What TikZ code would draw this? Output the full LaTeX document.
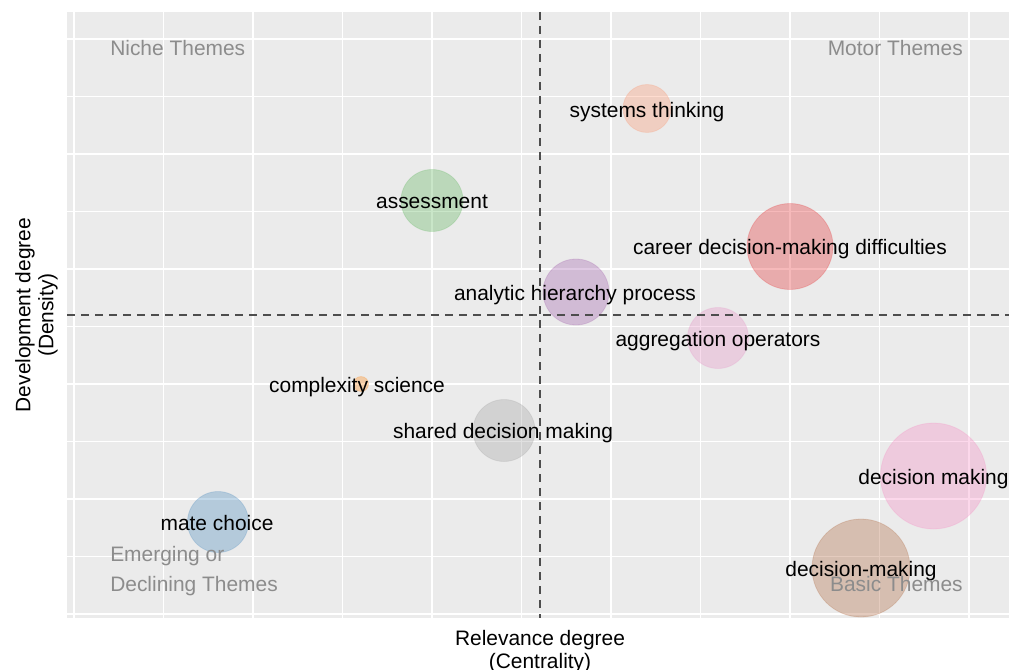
\documentclass[tikz,border=0pt]{standalone}
\usepackage{fontspec}
\setmainfont{Liberation Sans}
\definecolor{panelbg}{RGB}{235,235,235}
\definecolor{quadgray}{RGB}{140,140,140}
\definecolor{cutline}{RGB}{77,77,77}
\definecolor{cred}{RGB}{228,26,28}
\definecolor{cblue}{RGB}{55,126,184}
\definecolor{cgreen}{RGB}{77,175,74}
\definecolor{cpurple}{RGB}{152,78,163}
\definecolor{corange}{RGB}{255,127,0}
\definecolor{cbrown}{RGB}{166,86,40}
\definecolor{cpink}{RGB}{247,129,191}
\definecolor{cgray}{RGB}{153,153,153}
\definecolor{cpeach}{RGB}{252,141,98}
\definecolor{cmauve}{RGB}{231,138,195}

\begin{document}
\begin{tikzpicture}[x=0.75pt,y=-0.75pt,
    bubble/.style={circle,inner sep=0pt,minimum size=#1*1.5pt,fill opacity=0.3,draw opacity=0.2,line width=0.6pt},
    theme/.style={font=\fontsize{15.7}{18}\selectfont,text=black,inner sep=0pt,text height=11.2pt,text depth=0pt},
    quad/.style={font=\fontsize{15.7}{22.5}\selectfont,text=quadgray,inner sep=0pt},
    axistitle/.style={font=\fontsize{15.7}{17.25}\selectfont,text=black,inner sep=0pt,align=center},
    major/.style={white,line width=1.2pt},
    minor/.style={white,line width=0.6pt},
    cut/.style={cutline,line width=1.1pt,dash pattern=on 6pt off 4.5pt}]
  \useasboundingbox (0,0) rectangle (1009,670);
  %panel and grid
  \fill[panelbg] (67,12) rectangle (1009,618);
  \foreach \gx in {163.5,342.5,521.5,700.5,879.5} \draw[minor] (\gx,12) -- (\gx,618);
  \foreach \gy in {96.5,211.5,326.5,441.5,556.5} \draw[minor] (67,\gy) -- (1009,\gy);
  \foreach \gx in {74,253,432,611,790,969} \draw[major] (\gx,12) -- (\gx,618);
  \foreach \gy in {39,154,269,384,499,614} \draw[major] (67,\gy) -- (1009,\gy);
  %bubbles
  \node[bubble=24,fill=cpeach,draw=cpeach] (systems) at (647,108.5) {};
  \node[bubble=31,fill=cgreen,draw=cgreen] (assess) at (432,200.5) {};
  \node[bubble=43,fill=cred,draw=cred] (career) at (790,246.5) {};
  \node[bubble=33,fill=cpurple,draw=cpurple] (ahp) at (576,292) {};
  \node[bubble=30.5,fill=cmauve,draw=cmauve] (aggreg) at (718,338) {};
  \node[bubble=7.5,fill=corange,draw=corange] (complex) at (361,384) {};
  \node[bubble=31,fill=cgray,draw=cgray] (shared) at (504,430.5) {};
  \node[bubble=53,fill=cpink,draw=cpink] (decmak) at (933.5,476) {};
  \node[bubble=30.5,fill=cblue,draw=cblue] (mate) at (218,522) {};
  \node[bubble=49,fill=cbrown,draw=cbrown] (decdash) at (861,568) {};
  %theme labels
  \node[theme] (systemslbl) at ([yshift=-1pt]systems) {systems thinking};
  \node[theme] (assesslbl) at ([yshift=-0.5pt]assess) {assessment};
  \node[theme] (careerlbl) at ([yshift=-0.5pt]career) {career decision-making difficulties};
  \node[theme] (ahplbl) at ([xshift=-0.75pt,yshift=-0.75pt]ahp) {analytic hierarchy process};
  \node[theme] (aggreglbl) at ([yshift=-0.75pt]aggreg) {aggregation operators};
  \node[theme] (complexlbl) at ([xshift=-3pt,yshift=-0.75pt]complex) {complexity science};
  \node[theme] (sharedlbl) at ([xshift=-0.75pt,yshift=-0.75pt]shared) {shared decision making};
  \node[theme] (decmaklbl) at ([yshift=-0.75pt]decmak) {decision making};
  \node[theme] (matelbl) at ([xshift=-0.75pt,yshift=-0.5pt]mate) {mate choice};
  \node[theme] (decdashlbl) at ([yshift=-0.5pt]decdash) {decision-making};
  %quadrant names
  \node[quad,anchor=north west] (niche) at (110,40) {Niche Themes};
  \node[quad,anchor=north east] (motor) at (963,40) {Motor Themes};
  \node[quad,anchor=north west,align=left] (emerging) at (110,546) {Emerging or\\Declining Themes};
  \node[quad,anchor=north east] (basic) at (963,576) {Basic Themes};
  %cut lines
  \coordinate (vtop) at (540,12);
  \coordinate (vbot) at (540,618);
  \coordinate (hleft) at (67,315);
  \coordinate (hright) at (1009,315);
  \draw[cut] (vtop) -- (vbot);
  \draw[cut] (hleft) -- (hright);
  %axis titles
  \node[axistitle,anchor=north] (xtitle) at (540,630) {Relevance degree\\(Centrality)};
  \node[axistitle,anchor=north,rotate=90] (ytitle) at (15,315) {Development degree\\(Density)};
\end{tikzpicture}
\end{document}
